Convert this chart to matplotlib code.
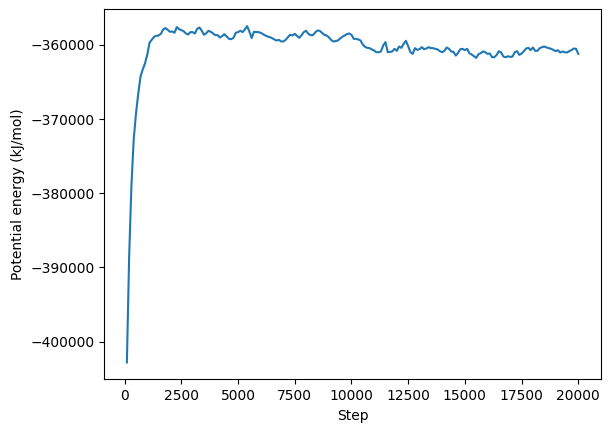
import numpy as np
import matplotlib
matplotlib.use("Agg")
import matplotlib.pyplot as plt

# Steps at which the energy was reported (every 100 steps)
steps = np.arange(100, 20001, 100)

# Potential energy in kJ/mol
energy_rise = [
    -402800, -388500, -379000, -372800, -369300, -366600, -364300, -363300, -362500, -361300,
]
energy_early = [
    -359700, -359300, -358920, -358790, -358740, -358520, -357930, -357750, -357980, -358250,
    -358200, -358380, -357620, -357890, -358020, -358160, -358470, -358610, -358290, -358290,
    -358470, -357840, -357660, -358110, -358650, -358430, -358110, -358250, -358470, -358700,
    -358700, -359010, -358830, -358560, -358880, -359190, -359240, -359060, -358380, -358290,
    -358110, -358290, -357930, -357480, -358200, -359100, -358250, -358290, -358290, -358380,
    -358560, -358740, -358880,
]
energy_middle = [
    -358970, -359100, -359280, -359420, -359330, -359550, -359550, -359330, -358970, -358650,
    -358740, -358520, -358790, -359060, -358700, -358290, -358110, -358520, -358700, -358700,
    -358340, -358070, -358110, -358380, -358650, -358740, -358970, -359330, -359550, -359510,
    -359420, -359150, -358920, -358740, -358560, -358470, -358650, -359190, -359190, -359280,
    -359420, -359960, -360270, -360410, -360450, -360630, -360770, -361000, -361000, -360900,
    -360090, -359640, -361000, -360950, -360900, -360540, -360810, -360230, -360410, -359870,
    -359460, -360180, -361000, -361220, -360450, -360680, -360590, -360320, -360590, -360500,
    -360320, -360450, -360450, -360540,
]
energy_late = [
    -360630, -360860, -361000, -360810, -360360, -360540, -360900, -360950, -361450, -361090,
    -360590, -360540, -360720, -360540, -361130, -361310, -361530, -361760, -361260, -361130,
    -360900, -361000, -361220, -361180, -361670, -361670, -361360, -360860, -361040, -361580,
    -361670, -361540, -361630, -361580, -361000, -360860, -361360, -361180, -360860, -360500,
    -360410, -360720, -360360, -360810, -360810, -360450, -360320, -360230, -360360, -360450,
    -360540, -360680, -360860, -360720, -361040, -360900, -361000, -361040, -360860, -360720,
    -360500, -360540, -361220,
]

energy = energy_rise + energy_early + energy_middle + energy_late

fig = plt.figure(figsize=(6.1, 4.32), dpi=100)
ax = fig.add_subplot(111)
fig.subplots_adjust(left=0.171, right=0.985, bottom=0.122, top=0.9785)

ax.plot(steps, energy)
ax.set_xlabel("Step")
ax.set_ylabel("Potential energy (kJ/mol)")

fig.savefig("out.png", dpi=100)
plt.close(fig)
